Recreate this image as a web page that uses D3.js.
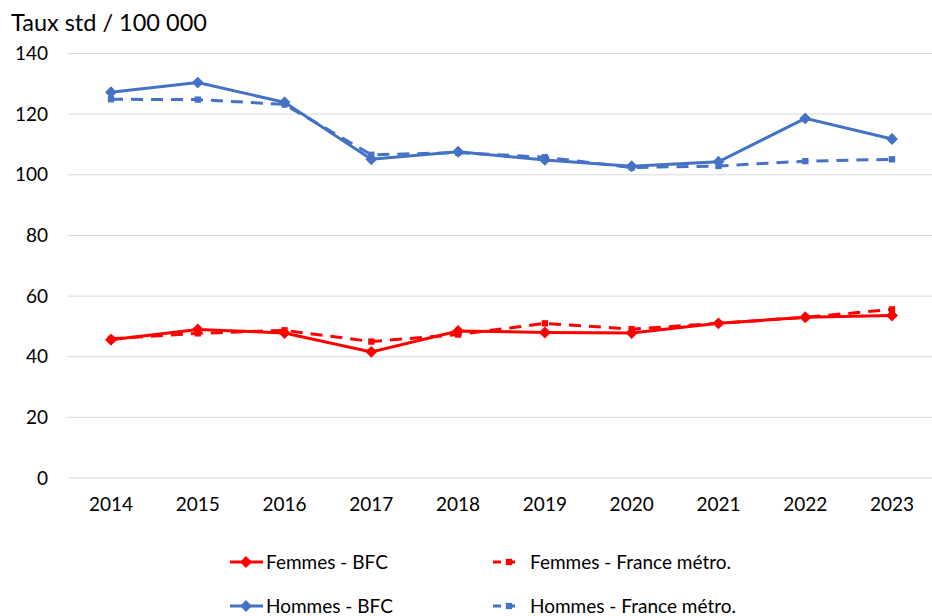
<!DOCTYPE html>
<html>
<head>
<meta charset="utf-8">
<script src="https://cdn.jsdelivr.net/npm/d3@7"></script>
<style>
  body { margin: 0; background: #fff; }
  text { font-family: Lato, "Open Sans", sans-serif; fill: #000; }
</style>
</head>
<body>
<script>
// Chart data
const years = ["2014", "2015", "2016", "2017", "2018", "2019", "2020", "2021", "2022", "2023"];
const femmesBFC = [45.6, 49.0, 47.8, 41.6, 48.5, 48.0, 47.8, 51.0, 53.0, 53.6];
const femmesFrance = [45.9, 47.7, 48.7, 45.0, 47.3, 51.0, 49.1, 51.0, 53.0, 55.6];
const hommesBFC = [127.2, 130.4, 123.9, 105.1, 107.6, 104.9, 102.8, 104.3, 118.6, 111.8];
const hommesFrance = [124.9, 124.8, 123.2, 106.6, 107.3, 105.8, 102.4, 102.9, 104.5, 105.1];
const yTicks = [0, 20, 40, 60, 80, 100, 120, 140];

const series = [
  { name: "Femmes - BFC", values: femmesBFC, color: "#FF0000", dashed: false },
  { name: "Femmes - France métro.", values: femmesFrance, color: "#FF0000", dashed: true },
  { name: "Hommes - BFC", values: hommesBFC, color: "#4472C4", dashed: false },
  { name: "Hommes - France métro.", values: hommesFrance, color: "#4472C4", dashed: true }
];

const WIDTH = 932, HEIGHT = 616;
const svg = d3.select("body").append("svg").attr("width", WIDTH).attr("height", HEIGHT);

// Scales
const x = d3.scaleBand().domain(years).range([67.6, 935.4]);
const y = d3.scaleLinear().domain([0, 140]).range([478, 53.5]);
const cx = d => x(d) + x.bandwidth() / 2;

// Title
svg.append("text").attr("x", 11).attr("y", 31).style("font-size", "23.5px").text("Taux std / 100 000");

// Gridlines
svg.append("g").selectAll("line").data(yTicks).enter().append("line")
  .attr("x1", 67.6).attr("x2", 935.4)
  .attr("y1", d => y(d)).attr("y2", d => y(d))
  .attr("stroke", "#d9d9d9").attr("stroke-width", 1);

// Y axis labels
const yAxis = svg.append("g").attr("transform", "translate(48,0)")
  .call(d3.axisLeft(y).tickValues(yTicks).tickSize(0).tickPadding(0));
yAxis.select(".domain").remove();
yAxis.selectAll("text").style("font-size", "19px").style("font-family", "Lato, sans-serif").attr("fill", "#000");

// X axis labels
const xAxis = svg.append("g").attr("transform", "translate(0,497)")
  .call(d3.axisBottom(x).tickSize(0).tickPadding(0));
xAxis.select(".domain").remove();
xAxis.selectAll("text").style("font-size", "19px").style("font-family", "Lato, sans-serif").attr("fill", "#000");

const line = d3.line().x((d, i) => cx(years[i])).y(d => y(d));
const diamond = d3.symbol().type(d3.symbolDiamond2).size(90);
const square = d3.symbol().type(d3.symbolSquare).size(40);

// Series lines and markers
series.forEach(s => {
  const g = svg.append("g");
  g.append("path").datum(s.values)
    .attr("d", line)
    .attr("fill", "none")
    .attr("stroke", s.color)
    .attr("stroke-width", 3)
    .attr("stroke-dasharray", s.dashed ? "12,8" : null);
  g.selectAll("path.m").data(s.values).enter().append("path")
    .attr("class", "m")
    .attr("transform", (d, i) => `translate(${cx(years[i])},${y(d)})`)
    .attr("d", s.dashed ? square : diamond)
    .attr("fill", s.color);
});

// Legend
const legendPos = [
  { x: 230, y: 562 }, { x: 493, y: 562 },
  { x: 230, y: 606 }, { x: 493, y: 606 }
];
series.forEach((s, i) => {
  const p = legendPos[i];
  const g = svg.append("g").attr("transform", `translate(${p.x},${p.y})`);
  if (s.dashed) {
    g.append("line").attr("x1", 0).attr("x2", 24).attr("y1", 0).attr("y2", 0)
      .attr("stroke", s.color).attr("stroke-width", 3).attr("stroke-dasharray", "8,6");
    g.append("path").attr("transform", "translate(16,0)").attr("d", square).attr("fill", s.color);
    g.append("text").attr("x", 37).attr("y", 7).style("font-size", "19px").text(s.name);
  } else {
    g.append("line").attr("x1", 0).attr("x2", 33).attr("y1", 0).attr("y2", 0)
      .attr("stroke", s.color).attr("stroke-width", 3);
    g.append("path").attr("transform", "translate(16,0)").attr("d", diamond).attr("fill", s.color);
    g.append("text").attr("x", 36).attr("y", 7).style("font-size", "19px").text(s.name);
  }
});
</script>
</body>
</html>
